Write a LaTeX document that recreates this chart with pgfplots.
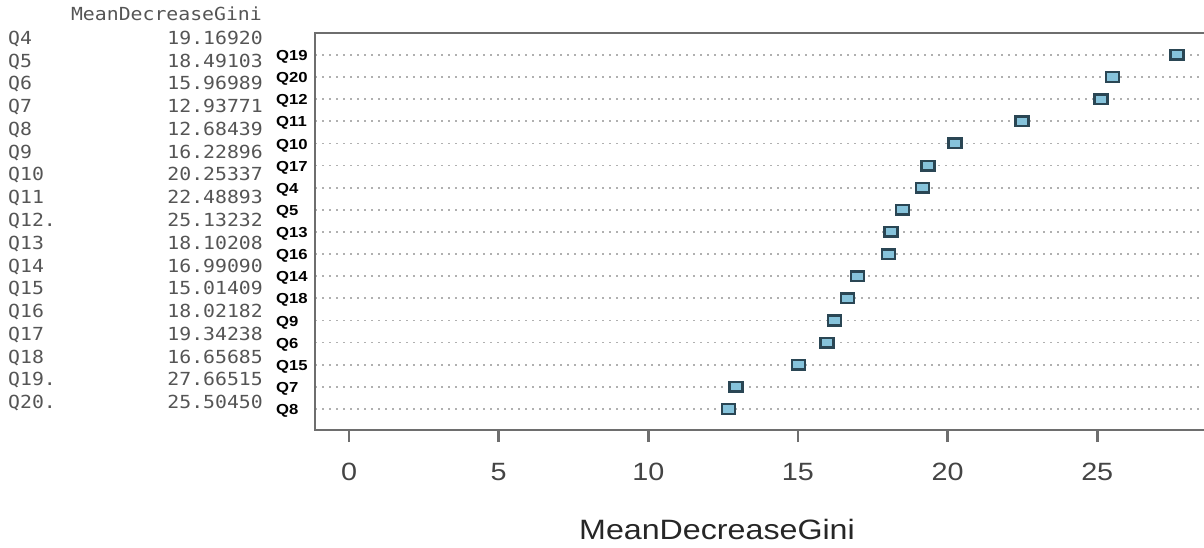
\documentclass[border=0pt]{standalone}
\usepackage{fontspec}
\usepackage{pgfplots}
\pgfplotsset{compat=1.18}
\setmainfont{Liberation Sans}
\newfontfamily\axfont{Liberation Sans}[FakeStretch=1.15]
\newfontfamily\monofont{DejaVu Sans Mono}[FakeStretch=1.1]
\definecolor{tabgray}{HTML}{555555}
\definecolor{tickgray}{HTML}{444444}
\definecolor{axgray}{HTML}{6E6E6E}
\definecolor{gridgray}{HTML}{B0B0B0}
\definecolor{mkedge}{HTML}{2A4654}
\definecolor{mkfill}{HTML}{86C3DB}
\pgfdeclareplotmark{rsq}{%
  \pgfsetcornersarced{\pgfpoint{3.5pt}{3.5pt}}%
  \pgfpathmoveto{\pgfpoint{0pt}{4.8pt}}%
  \pgfpathlineto{\pgfpoint{6.5pt}{4.8pt}}%
  \pgfpathlineto{\pgfpoint{6.5pt}{-4.8pt}}%
  \pgfpathlineto{\pgfpoint{-6.5pt}{-4.8pt}}%
  \pgfpathlineto{\pgfpoint{-6.5pt}{4.8pt}}%
  \pgfpathlineto{\pgfpoint{0pt}{4.8pt}}%
  \pgfpathclose
  \pgfusepathqfillstroke}
\pgfplotstableread{
v y
12.68439 1
12.93771 2
15.01409 3
15.96989 4
16.22896 5
16.65685 6
16.99090 7
18.02182 8
18.10208 9
18.49103 10
19.16920 11
19.34238 12
20.25337 13
22.48893 14
25.13232 15
25.50450 16
27.66515 17
}\gini
\begin{document}
\begin{tikzpicture}[x=1pt,y=1pt]
\path[use as bounding box] (0,0) rectangle (1204,-548);
\node[anchor=base east, inner sep=0pt, text=tabgray, font={\monofont\fontsize{18}{18}\selectfont}] at (262,-21) {MeanDecreaseGini};
\foreach \n/\v [count=\i from 0] in {Q4/19.16920, Q5/18.49103, Q6/15.96989, Q7/12.93771, Q8/12.68439, Q9/16.22896, Q10/20.25337, Q11/22.48893, Q12./25.13232, Q13/18.10208, Q14/16.99090, Q15/15.01409, Q16/18.02182, Q17/19.34238, Q18/16.65685, Q19./27.66515, Q20./25.50450} {
  \node[anchor=base west, inner sep=0pt, text=tabgray, font={\monofont\fontsize{18}{18}\selectfont}] at (8,{-44.5-22.75*\i}) {\n};
  \node[anchor=base east, inner sep=0pt, text=tabgray, font={\monofont\fontsize{18}{18}\selectfont}] at (263,{-44.5-22.75*\i}) {\v};
}
\begin{axis}[
  at={(315pt,-33pt)}, anchor=north west,
  scale only axis, width=891pt, height=397pt,
  xmin=-1.136, xmax=28.634, ymin=0.05, ymax=17.99,
  axis line style={line width=2.5pt, color=axgray},
  /pgf/number format/assume math mode=true,
  xtick={0,5,10,15,20,25},
  xtick pos=bottom, xtick align=outside, major tick length=12pt,
  xtick style={line width=2.5pt, color=axgray},
  xticklabel style={font={\axfont\fontsize{25}{25}\selectfont}, text=tickgray, inner sep=0pt, anchor=north, yshift=-21pt},
  ytick={1,...,17},
  yticklabels={Q8,Q7,Q15,Q6,Q9,Q18,Q14,Q16,Q13,Q5,Q4,Q17,Q10,Q11,Q12,Q20,Q19},
  ytick align=inside, ytick style={draw=none},
  yticklabel style={font={\axfont\bfseries\fontsize{14.5}{14.5}\selectfont}, text=black, anchor=west, inner sep=0pt, xshift=-39pt, yshift=-2pt},
  ymajorgrids=true,
  major grid style={line width=1.8pt, dash pattern=on 1.8pt off 5.2pt, color=gridgray},
]
\addplot[only marks, mark=rsq, mark options={draw=mkedge, fill=mkfill, line width=2.5pt}] table[x=v, y=y] {\gini};
\end{axis}
\node[text=black!85, font={\axfont\fontsize{28}{28}\selectfont}] at (717,-529) {MeanDecreaseGini};
\end{tikzpicture}
\end{document}
